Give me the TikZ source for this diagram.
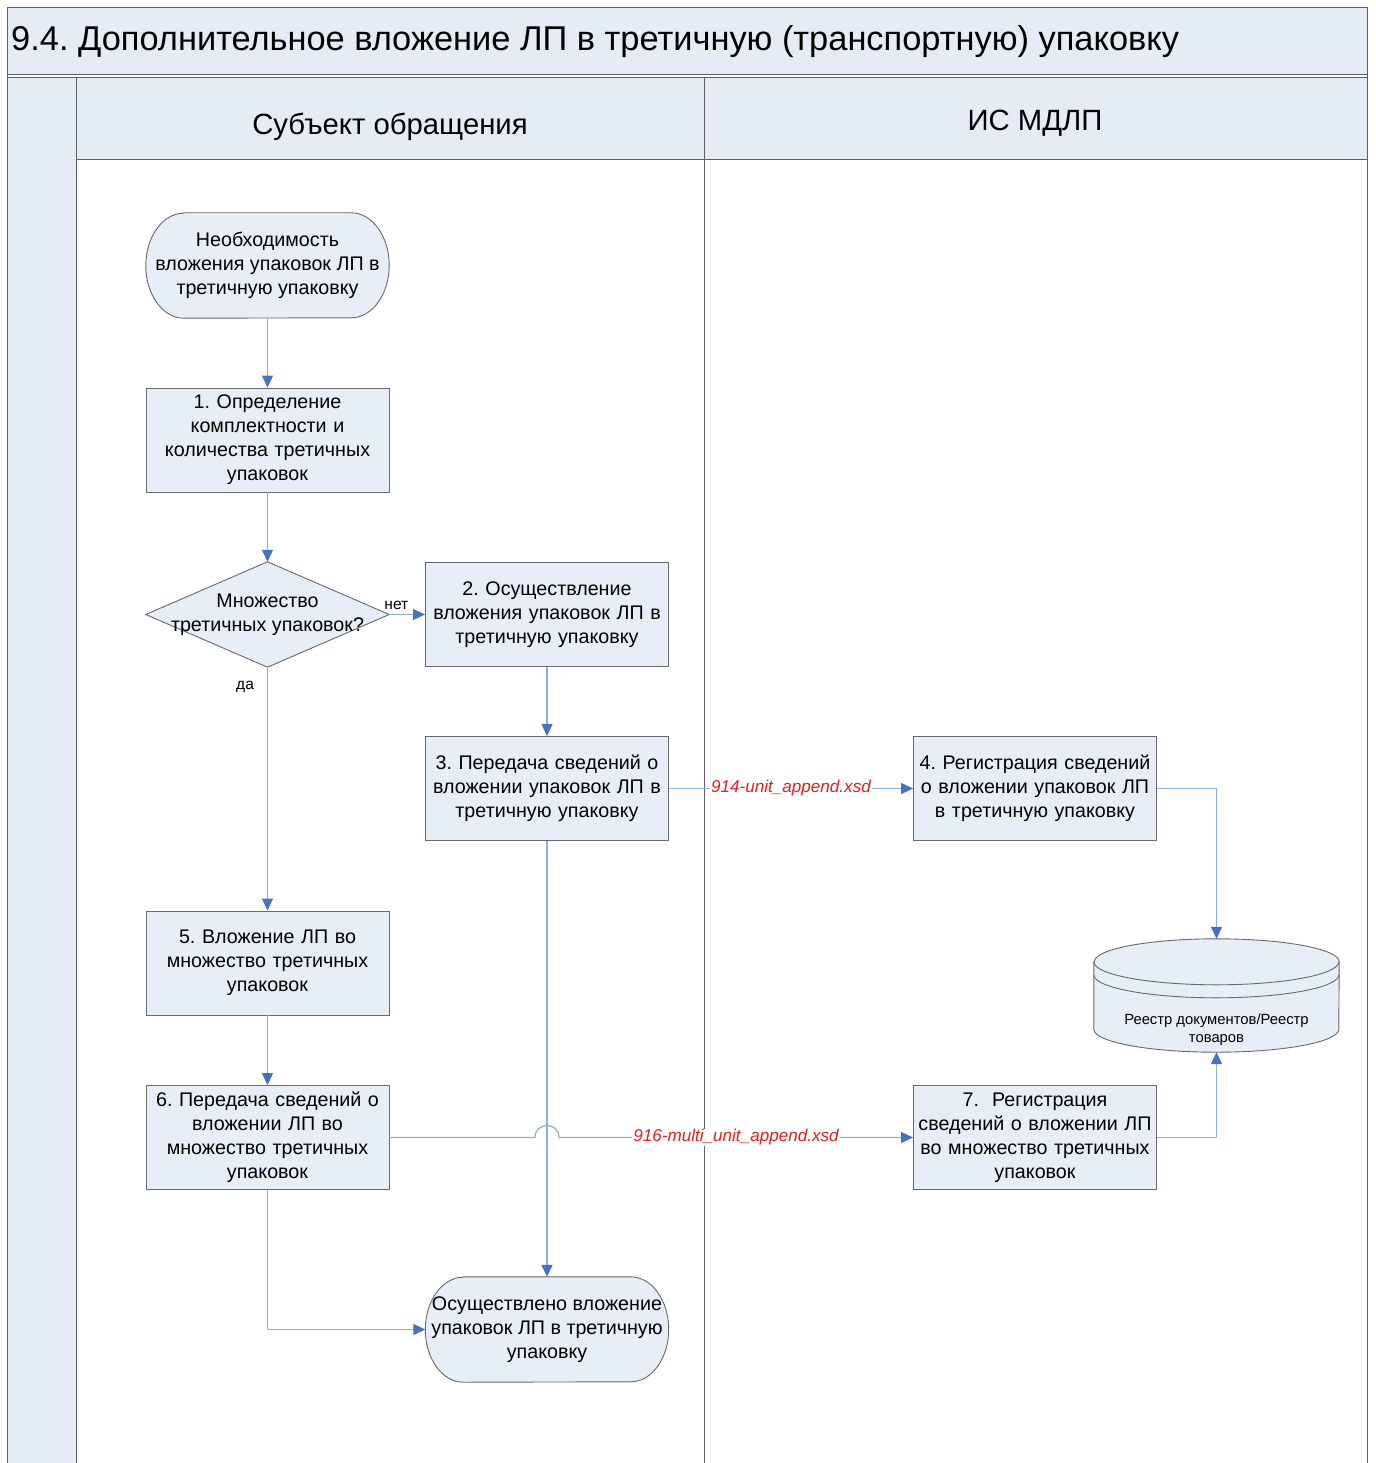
\documentclass[tikz,border=0pt]{standalone}
\usepackage{fontspec}
\setmainfont{Liberation Sans}
\usetikzlibrary{arrows.meta,backgrounds}
\definecolor{lanefill}{RGB}{230,236,246}
\definecolor{boxfill}{RGB}{232,238,247}
\definecolor{lanedraw}{RGB}{95,95,95}
\definecolor{boxdraw}{RGB}{105,105,105}
\definecolor{linecol}{RGB}{143,176,214}
\definecolor{tipcol}{RGB}{68,114,196}
\definecolor{xsdred}{RGB}{225,30,30}
\frenchspacing
\tikzset{
  boxtext/.style={font=\fontsize{19.7}{24}\selectfont, align=center},
  proc/.style={boxtext, draw=boxdraw, line width=0.9pt, fill=boxfill, minimum width=243pt, minimum height=104pt, text width=243pt, inner sep=0pt},
  termnode/.style={boxtext, minimum width=243pt, minimum height=105pt, inner sep=0pt},
  decnode/.style={boxtext, minimum width=243pt, minimum height=105pt, inner sep=0pt},
  shapeline/.style={draw=boxdraw, line width=0.9pt, fill=boxfill},
  lane/.style={draw=lanedraw, line width=1pt},
  conn/.style={draw=linecol, line width=1.2pt, -{Triangle[length=12pt,width=11pt,color=tipcol]}},
  xsd/.style={font=\fontsize{17.1}{20}\selectfont\itshape, text=xsdred, fill=white, inner sep=1pt},
  lbl/.style={font=\fontsize{15.5}{18}\selectfont, inner sep=1pt},
}
\begin{document}
\begin{tikzpicture}[x=1pt,y=-1pt]
\useasboundingbox (0,0) rectangle (1375,1463);
% nodes
\node[anchor=west, font=\fontsize{34.4}{38}\selectfont, inner sep=0pt] (title) at (11,42) {9.4. Дополнительное вложение ЛП в третичную (транспортную) упаковку};
\node[font=\fontsize{29.3}{32}\selectfont] (lane1) at (390,127) {Субъект обращения};
\node[font=\fontsize{29.3}{32}\selectfont] (lane2) at (1035,123) {ИС МДЛП};

\node[termnode] (start) at (267.5,265.5) {Необходимость\\вложения упаковок ЛП в\\третичную упаковку};
\node[proc] (n1) at (267.5,440) {1. Определение\\комплектности и\\количества третичных\\упаковок};
\node[decnode] (dec) at (267.5,614.5) {Множество\\третичных упаковок?};
\node[proc] (n2) at (547,614.5) {2. Осуществление\\вложения упаковок ЛП в\\третичную упаковку};
\node[proc] (n3) at (547,788.5) {3. Передача сведений о\\вложении упаковок ЛП в\\третичную упаковку};
\node[proc] (n4) at (1035,788.5) {4. Регистрация сведений\\о вложении упаковок ЛП\\в третичную упаковку};
\node[proc] (n5) at (267.5,963) {5. Вложение ЛП во\\множество третичных\\упаковок};
\node[proc] (n6) at (267.5,1137.5) {6. Передача сведений о\\вложении ЛП во\\множество третичных\\упаковок};
\node[proc] (n7) at (1035,1137.5) {7.\ \ Регистрация\\сведений о вложении ЛП\\во множество третичных\\упаковок};
\node[termnode] (endt) at (547,1329.5) {Осуществлено вложение\\упаковок ЛП в третичную\\упаковку};
\node[minimum width=245pt, minimum height=113pt, inner sep=0pt] (db) at (1216.5,995.5) {};
\node[font=\fontsize{14.8}{18}\selectfont, align=center, inner sep=0pt] (dbt) at (1216.5,1030) {Реестр документов/Реестр\\товаров};

\begin{scope}[on background layer]
  % lanes
  \fill[lanefill] (7,8) rectangle (1367,75);
  \fill[lanefill] (7,78) rectangle (76,1463);
  \fill[lanefill] (76,78) rectangle (1367,160);
  \draw[lane] (7,1463) -- (7,8) -- (1367,8) -- (1367,1463);
  \draw[lane] (7,75) -- (1367,75);
  \draw[lane] (7,78) -- (1367,78);
  \draw[lane] (76,78) -- (76,1463);
  \draw[lane] (704,78) -- (704,1463);
  \draw[lane] (76,160) -- (1367,160);
  % terminators
  \foreach \t in {start,endt}{
    \draw[shapeline] ([xshift=38pt]\t.north west) -- ([xshift=-38pt]\t.north east)
      arc[start angle=90,end angle=-90,x radius=38pt,y radius=52.5pt]
      -- ([xshift=38pt]\t.south west)
      arc[start angle=270,end angle=90,x radius=38pt,y radius=52.5pt] -- cycle;
  }
  % decision
  \draw[shapeline] (dec.west) -- (dec.north) -- (dec.east) -- (dec.south) -- cycle;
  % database
  \draw[shapeline] ([yshift=-23pt]db.north west) -- ([yshift=23pt]db.south west)
     arc[start angle=180,end angle=360,x radius=122.5pt,y radius=23pt]
     -- ([yshift=-23pt]db.north east)
     arc[start angle=0,end angle=180,x radius=122.5pt,y radius=23pt] -- cycle;
  \draw[draw=boxdraw, line width=0.9pt] ([yshift=-23pt]db.north west) arc[start angle=180,end angle=360,x radius=122.5pt,y radius=23pt];
  \draw[draw=boxdraw, line width=0.9pt] ([yshift=-36pt]db.north west) arc[start angle=180,end angle=360,x radius=122.5pt,y radius=23pt];
\end{scope}

% connectors
\draw[conn] (start) -- (n1);
\draw[conn] (n1) -- (dec);
\draw[conn] (dec) -- node[lbl, pos=0.2, above=3pt] {нет} (n2);
\draw[conn] (dec) -- node[lbl, pos=0.08, left=12pt] {да} (n5);
\draw[conn] (n2) -- (n3);
\draw[conn] (n3) -- node[xsd] {914-unit\_append.xsd} (n4);
\draw[conn] (n4.east) -| (db.north);
\draw[conn] (n3) -- (endt);
\draw[conn] (n5) -- (n6);
\coordinate (jumpa) at (535,1137.5);
\coordinate (jumpb) at (559,1137.5);
\draw[conn] (n6.east) -- (jumpa) .. controls (535,1121.5) and (559,1121.5) .. (jumpb) -- node[xsd, pos=0.5] {916-multi\_unit\_append.xsd} (n7.west);
\draw[conn] (n7.east) -| (db.south);
\draw[conn] (n6.south) |- (endt.west);
\end{tikzpicture}
\end{document}
